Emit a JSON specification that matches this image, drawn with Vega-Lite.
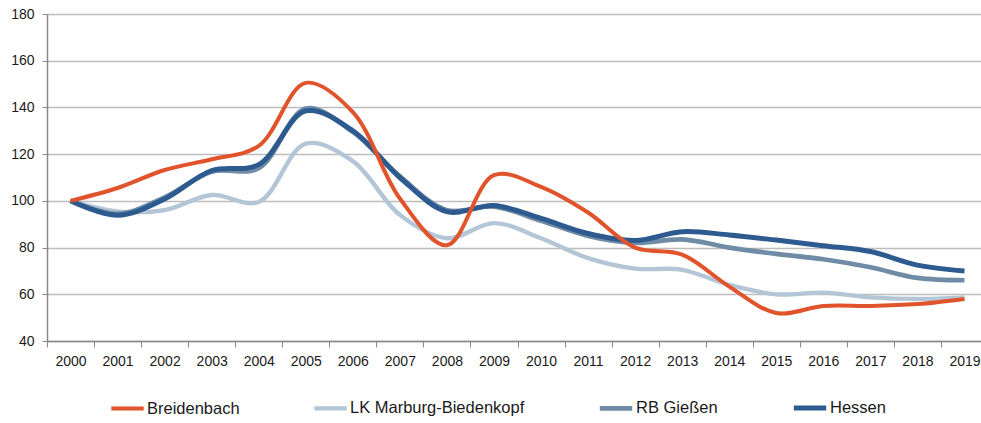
{
  "$schema": "https://vega.github.io/schema/vega-lite/v6.json",
  "width": 941,
  "height": 327,
  "autosize": "none",
  "padding": {"left": 47, "top": 14, "right": 0, "bottom": 82},
  "background": "white",
  "config": {
    "font": "Liberation Sans",
    "view": {"stroke": null}
  },
  "data": {
    "values": [
      {"year": "2000", "region": "LK Marburg-Biedenkopf", "value": 100},
      {"year": "2001", "region": "LK Marburg-Biedenkopf", "value": 95.5},
      {"year": "2002", "region": "LK Marburg-Biedenkopf", "value": 96},
      {"year": "2003", "region": "LK Marburg-Biedenkopf", "value": 102.5},
      {"year": "2004", "region": "LK Marburg-Biedenkopf", "value": 99.5},
      {"year": "2005", "region": "LK Marburg-Biedenkopf", "value": 124.5},
      {"year": "2006", "region": "LK Marburg-Biedenkopf", "value": 117},
      {"year": "2007", "region": "LK Marburg-Biedenkopf", "value": 94},
      {"year": "2008", "region": "LK Marburg-Biedenkopf", "value": 84},
      {"year": "2009", "region": "LK Marburg-Biedenkopf", "value": 90.5},
      {"year": "2010", "region": "LK Marburg-Biedenkopf", "value": 84},
      {"year": "2011", "region": "LK Marburg-Biedenkopf", "value": 75.5},
      {"year": "2012", "region": "LK Marburg-Biedenkopf", "value": 71},
      {"year": "2013", "region": "LK Marburg-Biedenkopf", "value": 70.5},
      {"year": "2014", "region": "LK Marburg-Biedenkopf", "value": 64},
      {"year": "2015", "region": "LK Marburg-Biedenkopf", "value": 60},
      {"year": "2016", "region": "LK Marburg-Biedenkopf", "value": 60.7},
      {"year": "2017", "region": "LK Marburg-Biedenkopf", "value": 58.7},
      {"year": "2018", "region": "LK Marburg-Biedenkopf", "value": 58},
      {"year": "2019", "region": "LK Marburg-Biedenkopf", "value": 58.7},
      {"year": "2000", "region": "RB Gießen", "value": 100},
      {"year": "2001", "region": "RB Gießen", "value": 94.5},
      {"year": "2002", "region": "RB Gießen", "value": 101.5},
      {"year": "2003", "region": "RB Gießen", "value": 112.5},
      {"year": "2004", "region": "RB Gießen", "value": 114},
      {"year": "2005", "region": "RB Gießen", "value": 139.5},
      {"year": "2006", "region": "RB Gießen", "value": 129.5},
      {"year": "2007", "region": "RB Gießen", "value": 110.5},
      {"year": "2008", "region": "RB Gießen", "value": 96},
      {"year": "2009", "region": "RB Gießen", "value": 97.5},
      {"year": "2010", "region": "RB Gießen", "value": 91.5},
      {"year": "2011", "region": "RB Gießen", "value": 85},
      {"year": "2012", "region": "RB Gießen", "value": 82},
      {"year": "2013", "region": "RB Gießen", "value": 83.5},
      {"year": "2014", "region": "RB Gießen", "value": 80},
      {"year": "2015", "region": "RB Gießen", "value": 77.3},
      {"year": "2016", "region": "RB Gießen", "value": 75},
      {"year": "2017", "region": "RB Gießen", "value": 71.6},
      {"year": "2018", "region": "RB Gießen", "value": 67},
      {"year": "2019", "region": "RB Gießen", "value": 66},
      {"year": "2000", "region": "Hessen", "value": 100},
      {"year": "2001", "region": "Hessen", "value": 93.8},
      {"year": "2002", "region": "Hessen", "value": 100.8},
      {"year": "2003", "region": "Hessen", "value": 113},
      {"year": "2004", "region": "Hessen", "value": 115.5},
      {"year": "2005", "region": "Hessen", "value": 138.5},
      {"year": "2006", "region": "Hessen", "value": 130},
      {"year": "2007", "region": "Hessen", "value": 110},
      {"year": "2008", "region": "Hessen", "value": 95.4},
      {"year": "2009", "region": "Hessen", "value": 98},
      {"year": "2010", "region": "Hessen", "value": 92.5},
      {"year": "2011", "region": "Hessen", "value": 86},
      {"year": "2012", "region": "Hessen", "value": 83},
      {"year": "2013", "region": "Hessen", "value": 86.8},
      {"year": "2014", "region": "Hessen", "value": 85.4},
      {"year": "2015", "region": "Hessen", "value": 83.2},
      {"year": "2016", "region": "Hessen", "value": 80.8},
      {"year": "2017", "region": "Hessen", "value": 78.3},
      {"year": "2018", "region": "Hessen", "value": 72.5},
      {"year": "2019", "region": "Hessen", "value": 70},
      {"year": "2000", "region": "Breidenbach", "value": 100},
      {"year": "2001", "region": "Breidenbach", "value": 105.5},
      {"year": "2002", "region": "Breidenbach", "value": 113.2},
      {"year": "2003", "region": "Breidenbach", "value": 117.8},
      {"year": "2004", "region": "Breidenbach", "value": 123.5},
      {"year": "2005", "region": "Breidenbach", "value": 150.5},
      {"year": "2006", "region": "Breidenbach", "value": 138},
      {"year": "2007", "region": "Breidenbach", "value": 101},
      {"year": "2008", "region": "Breidenbach", "value": 81},
      {"year": "2009", "region": "Breidenbach", "value": 111},
      {"year": "2010", "region": "Breidenbach", "value": 106},
      {"year": "2011", "region": "Breidenbach", "value": 95},
      {"year": "2012", "region": "Breidenbach", "value": 80},
      {"year": "2013", "region": "Breidenbach", "value": 77},
      {"year": "2014", "region": "Breidenbach", "value": 63.3},
      {"year": "2015", "region": "Breidenbach", "value": 52},
      {"year": "2016", "region": "Breidenbach", "value": 55},
      {"year": "2017", "region": "Breidenbach", "value": 55},
      {"year": "2018", "region": "Breidenbach", "value": 55.8},
      {"year": "2019", "region": "Breidenbach", "value": 58}
    ]
  },
  "mark": {"type": "line", "interpolate": "catmull-rom"},
  "encoding": {
    "x": {
      "field": "year",
      "type": "ordinal",
      "bandPosition": 0.5,
      "scale": {"type": "band", "paddingInner": 0, "paddingOuter": 0},
      "axis": {
        "title": null,
        "labelAngle": 0,
        "labelFontSize": 14,
        "labelColor": "#1a1a1a",
        "labelPadding": 7,
        "tickBand": "extent",
        "tickSize": 6,
        "tickColor": "#888888",
        "domainColor": "#888888",
        "domainWidth": 1.5,
        "grid": false
      }
    },
    "y": {
      "field": "value",
      "type": "quantitative",
      "scale": {"domain": [40, 180], "nice": false, "zero": false},
      "axis": {
        "title": null,
        "values": [40, 60, 80, 100, 120, 140, 160, 180],
        "labelFontSize": 14,
        "labelColor": "#1a1a1a",
        "labelPadding": 8,
        "tickSize": 5,
        "tickColor": "#888888",
        "domainColor": "#888888",
        "domainWidth": 1.5,
        "grid": true,
        "gridColor": "#bdbdbd",
        "gridWidth": 1.5
      }
    },
    "color": {
      "field": "region",
      "type": "nominal",
      "scale": {
        "domain": ["Breidenbach", "LK Marburg-Biedenkopf", "RB Gießen", "Hessen"],
        "range": ["#e0532b", "#b4c5d5", "#6f8ba6", "#2e5b8f"]
      },
      "legend": {
        "title": null,
        "orient": "none",
        "direction": "horizontal",
        "legendX": 62,
        "legendY": 375,
        "symbolType": "stroke",
        "symbolSize": 1050,
        "symbolStrokeWidth": 4.5,
        "labelFontSize": 16.5,
        "labelColor": "#1a1a1a",
        "labelOffset": 1,
        "labelLimit": 400,
        "columnPadding": 65
      }
    },
    "strokeWidth": {
      "field": "region",
      "type": "nominal",
      "scale": {
        "domain": ["Breidenbach", "LK Marburg-Biedenkopf", "RB Gießen", "Hessen"],
        "range": [4, 5, 5, 5]
      },
      "legend": null
    }
  }
}
